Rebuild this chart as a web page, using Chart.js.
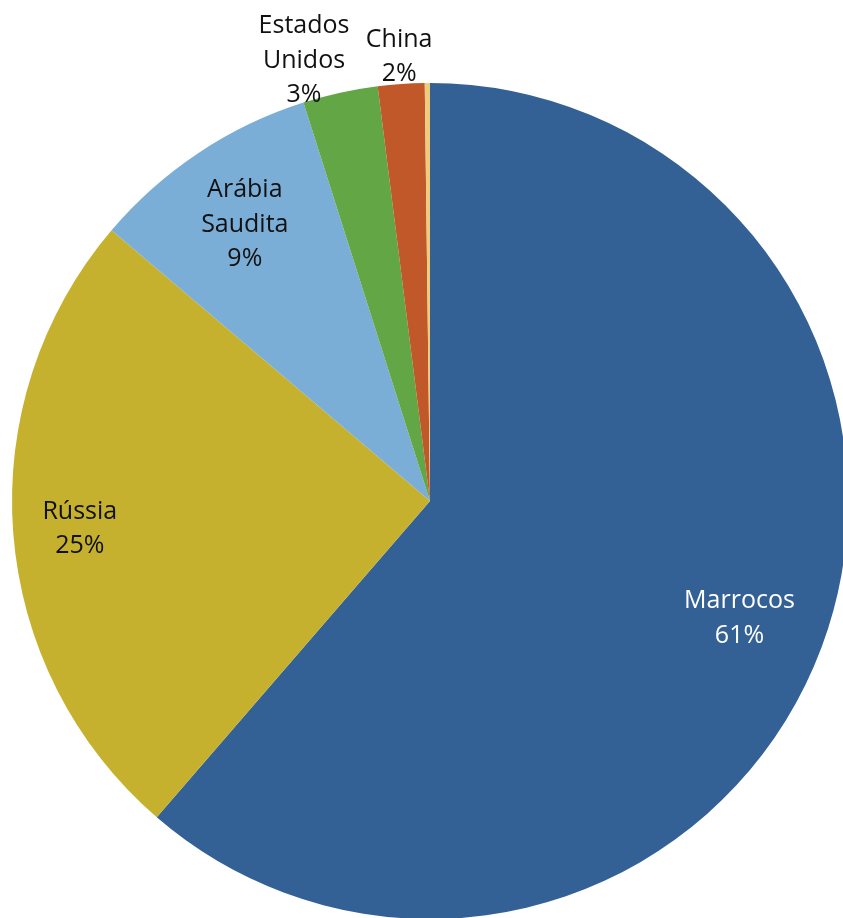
<!DOCTYPE html>
<html>
<head>
<meta charset="utf-8">
<script src="https://cdn.jsdelivr.net/npm/chart.js@4"></script>
<style>
  html, body { margin: 0; padding: 0; background: #ffffff; overflow: hidden; }
  #wrap { position: absolute; left: 0; top: 0; width: 850px; height: 920px; }
</style>
</head>
<body>
<div id="wrap"><canvas id="c" width="850" height="920"></canvas></div>
<script>
const categories = ["Marrocos", "Rússia", "Arábia Saudita", "Estados Unidos", "China", "Outros"];
const values = [61.4, 24.9, 8.9, 2.9, 1.8, 0.2];
const colors = ["#336195", "#C6B12F", "#7BAED6", "#62A646", "#C05829", "#EFCB7E"];
const labelColors = ["#ffffff", "#111111", "#111111", "#111111", "#111111", null];
// label placement: fraction of radius, optional angle (degrees clockwise from top)
const placement = [{ f: 0.79 }, { f: 0.84, angle: 265.8 }, { f: 0.80 }, { f: 1.10, angle: 344.1 }, { f: 1.07 }, null];

const labelPlugin = {
  id: 'sliceLabels',
  afterDatasetsDraw(chart) {
    const ctx = chart.ctx;
    const meta = chart.getDatasetMeta(0);
    const data = chart.data.datasets[0].data;
    const total = data.reduce((a, b) => a + b, 0);
    ctx.save();
    ctx.font = '25px "Open Sans", Lato, sans-serif';
    ctx.textAlign = 'center';
    ctx.textBaseline = 'middle';
    meta.data.forEach((arc, i) => {
      const p = placement[i];
      if (!p) return;
      const props = arc.getProps(['x', 'y', 'startAngle', 'endAngle', 'outerRadius']);
      let a = (props.startAngle + props.endAngle) / 2;
      if (p.angle !== undefined) a = p.angle * Math.PI / 180 - Math.PI / 2;
      const r = props.outerRadius * p.f;
      const cx = props.x + Math.cos(a) * r;
      const cy = props.y + Math.sin(a) * r;
      const lines = chart.data.labels[i].split(' ');
      lines.push(Math.round(data[i] / total * 100) + '%');
      const lh = 34.5;
      ctx.fillStyle = labelColors[i];
      lines.forEach((t, k) => {
        ctx.fillText(t, cx, cy + 2 + (k - (lines.length - 1) / 2) * lh);
      });
    });
    ctx.restore();
  }
};

new Chart(document.getElementById('c'), {
  type: 'pie',
  data: {
    labels: categories,
    datasets: [{
      data: values,
      backgroundColor: colors,
      borderWidth: 0
    }]
  },
  options: {
    responsive: false,
    devicePixelRatio: 1,
    animation: false,
    layout: { padding: { top: 83, left: 12, right: 2, bottom: 1 } },
    plugins: {
      legend: { display: false },
      tooltip: { enabled: false }
    }
  },
  plugins: [labelPlugin]
});
</script>
</body>
</html>
